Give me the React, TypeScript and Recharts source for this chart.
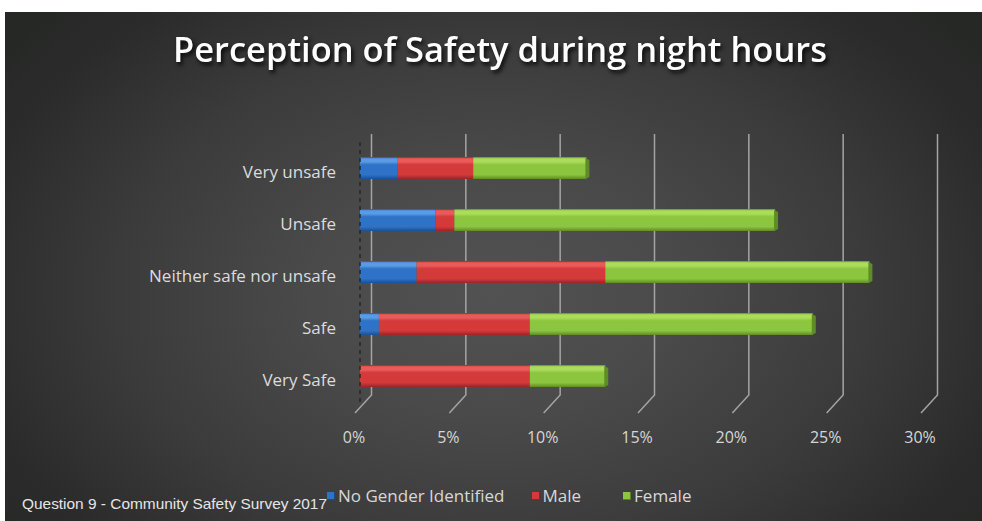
import React from 'react';
import { BarChart, Bar, XAxis, YAxis, CartesianGrid, Legend } from 'recharts';

const categories = ['Very unsafe', 'Unsafe', 'Neither safe nor unsafe', 'Safe', 'Very Safe'];
const noGender = [2, 4, 3, 1, 0];
const male = [4, 1, 10, 8, 9];
const female = [6, 17, 14, 15, 4];
const xTicks = [0, 5, 10, 15, 20, 25, 30];
const seriesNames = ['No Gender Identified', 'Male', 'Female'];
const seriesKeys = ['ng', 'male', 'female'];
const seriesColors = ['#2f73c8', '#d43a3a', '#8cc63f'];
const titleText = 'Perception of Safety during night hours';
const footerText = 'Question 9 - Community Safety Survey 2017';

const data = categories.map((c, i) => ({
  category: c,
  ng: noGender[i],
  male: male[i],
  female: female[i],
}));

const gradients = [
  { id: 'gBlue', light: '#5a9be3', mid: '#2f73c8', dark: '#1c4f96' },
  { id: 'gRed', light: '#ea5a5a', mid: '#d43a3a', dark: '#9c2424' },
  { id: 'gGreen', light: '#acdc5c', mid: '#8cc63f', dark: '#5f8c26' },
];
const capColors = ['#1c4f96', '#9c2424', '#5f8c26'];

const makeShape = (idx: number, cap: boolean) => (props: any) => {
  const { x, y, width, height } = props;
  if (!width || width <= 0.5) return <g />;
  return (
    <g>
      <rect x={x} y={y} width={width} height={height} fill={`url(#${gradients[idx].id})`} />
      {cap && (
        <polygon
          points={`${x + width - 1},${y + 1} ${x + width + 3},${y + 3} ${x + width + 3},${y + height - 2} ${x + width - 1},${y + height}`}
          fill={capColors[idx]}
        />
      )}
    </g>
  );
};

const gridLine = (props: any) => {
  const { x1, y1, y2 } = props;
  const bx = x1 + 11.5;
  return (
    <path
      key={props.key ?? x1}
      d={`M${bx},${y1 - 8} L${bx},${y2 - 7} L${x1 - 5},${y2 + 11}`}
      stroke="#a4a4a4"
      strokeWidth={1.5}
      fill="none"
    />
  );
};

const XTick = (props: any) => {
  const { x, y, payload } = props;
  return (
    <text x={x - 6} y={y + 41} textAnchor="middle" fill="#d6d6d6" fontSize={16} fontFamily="'Open Sans', sans-serif">
      {`${payload.value}%`}
    </text>
  );
};

const YTick = (props: any) => {
  const { x, y, payload } = props;
  return (
    <text x={x} y={y + 10} textAnchor="end" fill="#dcdcdc" fontSize={17} fontFamily="'Open Sans', sans-serif">
      {payload.value}
    </text>
  );
};

const LegendContent = (props: any) => {
  const payload = [...(props.payload || [])].sort(
    (a: any, b: any) => seriesNames.indexOf(a.value) - seriesNames.indexOf(b.value)
  );
  return (
    <div style={{ display: 'flex', alignItems: 'center', fontFamily: "'Open Sans', sans-serif", fontSize: 17, color: '#d8d8d8', whiteSpace: 'nowrap' }}>
      {payload.map((entry: any, i: number) => {
        const ci = seriesNames.indexOf(entry.value);
        return (
          <div key={i} style={{ display: 'flex', alignItems: 'center', marginRight: i === 0 ? 27 : 42 }}>
            <span style={{ display: 'inline-block', width: 8, height: 8, background: seriesColors[ci], marginRight: 3, boxShadow: 'inset -1px -1px 0 rgba(0,0,0,0.35)' }} />
            <span>{entry.value}</span>
          </div>
        );
      })}
    </div>
  );
};

export default function App() {
  return (
    <div
      style={{
        position: 'absolute',
        left: 5,
        top: 12,
        width: 977,
        height: 509,
        background: 'radial-gradient(ellipse 62% 80% at 50% 55%, #525252 0%, #4a4a4a 30%, #3b3b3b 62%, #2b2b2b 88%, #262826 100%)',
        overflow: 'hidden',
      }}
    >
      <svg width={0} height={0} style={{ position: 'absolute' }}>
        <defs>
          {gradients.map((g) => (
            <linearGradient key={g.id} id={g.id} x1="0" y1="0" x2="0" y2="1">
              <stop offset="0%" stopColor={g.dark} />
              <stop offset="8%" stopColor={g.light} />
              <stop offset="22%" stopColor={g.light} />
              <stop offset="35%" stopColor={g.mid} />
              <stop offset="80%" stopColor={g.mid} />
              <stop offset="100%" stopColor={g.dark} />
            </linearGradient>
          ))}
        </defs>
      </svg>
      <svg width={977} height={80} style={{ position: 'absolute', left: 0, top: 0 }}>
        <text
          x={495}
          y={50}
          textAnchor="middle"
          fill="#ffffff"
          fontSize={34}
          fontWeight={600}
          fontFamily="'Open Sans', sans-serif"
          textLength={654}
          lengthAdjust="spacingAndGlyphs"
          style={{ filter: 'drop-shadow(2px 3px 2px rgba(0,0,0,0.85))' }}
        >
          {titleText}
        </text>
      </svg>
      <BarChart
        width={977}
        height={509}
        data={data}
        layout="vertical"
        margin={{ top: 130, right: 56, bottom: 79, left: 0 }}
      >
        <CartesianGrid horizontal={false} vertical={gridLine} />
        <XAxis
          type="number"
          domain={[0, 30]}
          ticks={xTicks}
          axisLine={false}
          tickLine={false}
          tickSize={0}
          tickMargin={0}
          height={40}
          tick={<XTick />}
          interval={0}
        />
        <YAxis
          type="category"
          dataKey="category"
          width={355}
          axisLine={{ stroke: '#262626', strokeWidth: 1.5, strokeDasharray: '4 4' }}
          tickLine={false}
          tickSize={0}
          tickMargin={24}
          tick={<YTick />}
          interval={0}
        />
        {seriesKeys.map((k, i) => (
          <Bar
            key={k}
            dataKey={k}
            name={seriesNames[i]}
            stackId="a"
            barSize={22}
            fill={seriesColors[i]}
            isAnimationActive={false}
            shape={makeShape(i, i === 2)}
          />
        ))}
        <Legend
          layout="horizontal"
          verticalAlign="middle"
          align="center"
          wrapperStyle={{ left: 322, top: 472, width: 'auto', height: 'auto' }}
          content={<LegendContent />}
        />
      </BarChart>
      <svg width={340} height={30} style={{ position: 'absolute', left: 0, top: 478 }}>
        <text
          x={17}
          y={19}
          fill="#e6e6e6"
          fontSize={15}
          fontFamily="'Liberation Sans', Arial, sans-serif"
          textLength={305}
          lengthAdjust="spacingAndGlyphs"
        >
          {footerText}
        </text>
      </svg>
    </div>
  );
}
